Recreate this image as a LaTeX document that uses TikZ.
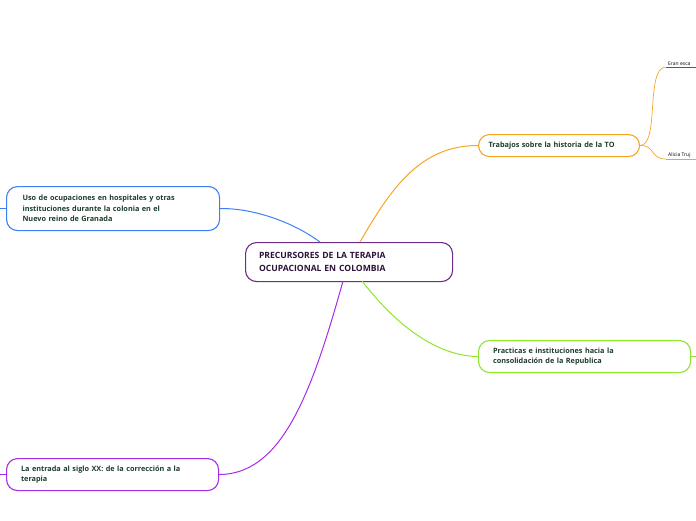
\documentclass[tikz,border=0pt]{standalone}
\usepackage{fontspec}
\setmainfont{Open Sans}
\begin{document}
\begin{tikzpicture}[x=1pt,y=-1pt,
 box/.style={draw,line width=1.1pt,rounded corners=11pt,fill=white,anchor=north west,align=left,inner sep=0pt,text=txt,font=\fontsize{7.3}{10.5}\selectfont\bfseries},
 leaf/.style={font=\fontsize{5}{6}\selectfont,inner sep=1pt,anchor=south west}]
\definecolor{txt}{HTML}{1F3D2E}
\definecolor{cpur}{HTML}{6B2C8C}
\definecolor{corg}{HTML}{F5A623}
\definecolor{cblu}{HTML}{3D7FF5}
\definecolor{cgrn}{HTML}{8EE62A}
\definecolor{cvio}{HTML}{A62BEB}
\definecolor{cred}{HTML}{B03050}
\useasboundingbox (0,0) rectangle (696,520);
\node[box,draw=cpur,minimum width=207pt,minimum height=39pt,text=cpur!40!black,font=\fontsize{8.6}{13}\selectfont\bfseries,text width=200pt] (c) at (245,242) {\hspace*{10pt}PRECURSORES DE LA TERAPIA\\\hspace*{10pt}OCUPACIONAL EN COLOMBIA};
\node[box,draw=corg,minimum width=161pt,minimum height=22pt,text width=155pt] (t) at (478,134) {\hspace*{7pt}Trabajos sobre la historia de la TO};
\node[box,draw=cblu,minimum width=213pt,minimum height=44pt,text width=205pt] (u) at (6,186) {\hspace*{12pt}Uso de ocupaciones en hospitales y otras\\\hspace*{12pt}instituciones durante la colonia en el\\\hspace*{12pt}Nuevo reino de Granada};
\node[box,draw=cgrn,minimum width=212pt,minimum height=32pt,text width=205pt] (p) at (478,340) {\hspace*{11pt}Practicas e instituciones hacia la\\\hspace*{11pt}consolidación de la Republica};
\node[box,draw=cvio,minimum width=212pt,minimum height=32pt,text width=205pt] (e) at (6,458) {\hspace*{11pt}La entrada al siglo XX: de la corrección a la\\\hspace*{11pt}terapia};
\coordinate (l1) at (666,67); \coordinate (l2) at (666,159);
\node[leaf] (n1) at (667,67) {Eran esca};
\node[leaf] (n2) at (667,159) {Alicia Truj};
\draw[cred,line width=0.6pt] (l1) -- (696,67);
\draw[corg,line width=0.6pt] (l2) -- (696,159);
\draw[corg,line width=0.7pt] (t.east) .. controls (660,145) and (645,67) .. (l1);
\draw[corg,line width=0.7pt] (t.east) .. controls (655,145) and (650,159) .. (l2);
\draw[corg,line width=1pt] (360,242) .. controls (390,190) and (420,145) .. (t.west);
\draw[cblu,line width=1pt] (320,242) .. controls (290,220) and (250,208) .. (u.east);
\draw[cgrn,line width=1pt] (362,281) .. controls (400,330) and (440,356) .. (p.west);
\draw[cvio,line width=1pt] (343,281) .. controls (310,400) and (280,474) .. (e.east);
\draw[cblu] (u.west) -- ++(-6,0);
\draw[cvio] (e.west) -- ++(-6,0);
\draw[cgrn] (p.east) -- ++(6,0);
\end{tikzpicture}
\end{document}
